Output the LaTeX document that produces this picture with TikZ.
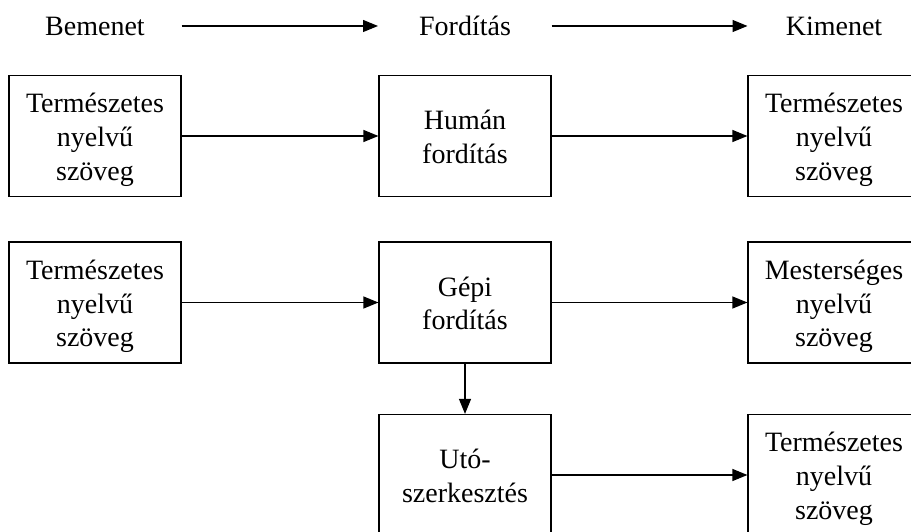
\documentclass[tikz,border=0pt]{standalone}
\usepackage{fontspec}
\setmainfont{Liberation Serif}
\usetikzlibrary{arrows.meta}
\newcommand{\bxt}[1]{\raisebox{-10pt}[0pt][0pt]{\begin{tabular}{@{}c@{}}#1\end{tabular}}}
\begin{document}
\begin{tikzpicture}[x=1pt,y=-1pt,
  every node/.style={font=\fontsize{28}{33.7}\selectfont},
  box/.style={draw, line width=1.2pt, minimum width=172pt, minimum height=121pt, inner sep=0pt},
  hdr/.style={anchor=base, inner sep=0pt},
  arr/.style={-{Triangle[length=15pt,width=12pt]}, line width=1.2pt}]
\useasboundingbox (0,0) rectangle (911,532);
\clip (0,0) rectangle (911,532);
% header
\node[hdr] (hin)  at (95,35.7) {Bemenet};
\node[hdr] (htr)  at (465,35.7) {Fordítás};
\node[hdr] (hout) at (834,35.7) {Kimenet};
\coordinate (h1a) at (181.5,26);
\coordinate (h1b) at (378,26);
\coordinate (h2a) at (551.5,26);
\coordinate (h2b) at (747.5,26);
\draw[arr] (h1a) -- (h1b);
\draw[arr] (h2a) -- (h2b);
% row 1
\node[box] (a1) at (95,136) {\bxt{Természetes\\nyelvű\\szöveg}};
\node[box] (b1) at (465,136) {\bxt{Humán\\fordítás}};
\node[box] (c1) at (834,136) {\bxt{Természetes\\nyelvű\\szöveg}};
% row 2
\node[box] (a2) at (95,302.5) {\bxt{Természetes\\nyelvű\\szöveg}};
\node[box] (b2) at (465,302.5) {\bxt{Gépi\\fordítás}};
\node[box] (c2) at (834,302.5) {\bxt{Mesterséges\\nyelvű\\szöveg}};
% row 3
\node[box] (b3) at (465,475) {\bxt{Utó-\\szerkesztés}};
\node[box] (c3) at (834,475) {\bxt{Természetes\\nyelvű\\szöveg}};
% connectors
\draw[arr] (a1) -- (b1);
\draw[arr] (b1) -- (c1);
\draw[arr] (a2) -- (b2);
\draw[arr] (b2) -- (c2);
\draw[arr] (b2) -- (b3);
\draw[arr] (b3) -- (c3);
\end{tikzpicture}
\end{document}
